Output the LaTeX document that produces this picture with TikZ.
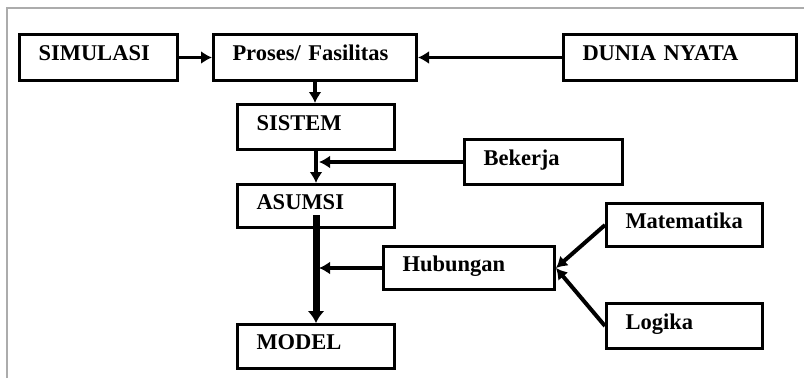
\documentclass[tikz,border=0pt]{standalone}
\usepackage{fontspec}
\setmainfont{Liberation Serif}
\usetikzlibrary{arrows.meta}

\tikzset{
  box/.style={draw, line width=3pt, anchor=north west, minimum height=44pt,
    inner xsep=19pt, text height=15pt, text depth=9pt, align=left,
    font=\fontsize{22.5}{24}\selectfont\bfseries},
  arr/.style={line width=3.5pt, -{Latex[length=11pt,width=13pt]}},
  fatarr/.style={line width=7pt, -{Latex[length=12pt,width=17pt]}}
}

\begin{document}
\begin{tikzpicture}[x=1pt, y=-1pt]
    \useasboundingbox (0,0) rectangle (804,378);
    \draw[gray!65, line width=1.2pt] (7,378) -- (7,8) -- (804,8);

    % top row
    \node[box, text width=120pt, minimum height=46pt] (simulasi) at (18,33) {SIMULASI};
    \node[box, text width=165pt, minimum height=46pt] (proses) at (212,33) {Proses/ Fasilitas};
    \node[box, text width=195pt, minimum height=46pt] (dunia) at (562,33) {DUNIA NYATA};

    % middle column
    \node[box, text width=119pt, minimum height=45pt] (sistem) at (236,103) {SISTEM};
    \node[box, text width=120pt, minimum height=45pt] (bekerja) at (463,138) {Bekerja};
    \node[box, text width=119pt, minimum height=43pt] (asumsi) at (236,183) {ASUMSI};
    \node[box, text width=133pt, minimum height=43pt] (hubungan) at (382,245) {Hubungan};
    \node[box, text width=119pt, minimum height=44pt] (model) at (236,323) {MODEL};

    % right
    \node[box, text width=118pt, minimum height=43pt] (matematika) at (605,202) {Matematika};
    \node[box, text width=118pt, minimum height=45pt] (logika) at (605,302) {Logika};

    \draw[arr] (simulasi.east) -- (proses.west);
    \draw[arr] (dunia.west) -- (proses.east);
    \draw[arr] (proses.south) -- (proses.south |- sistem.north);
    \draw[arr] (sistem.south) -- (asumsi.north);
    \draw[arr, shorten >=3pt] (bekerja.west) -- (bekerja.west -| sistem.south);
    \draw[fatarr] ([yshift=14pt]asumsi.south) -- (model.north);
    \draw[arr, shorten >=3pt] (hubungan.west) -- (hubungan.west -| model.north);
    \draw[arr, line width=4pt] (matematika.west) -- (hubungan.east);
    \draw[arr, line width=4pt] (logika.west) -- (hubungan.east);
\end{tikzpicture}
\end{document}
